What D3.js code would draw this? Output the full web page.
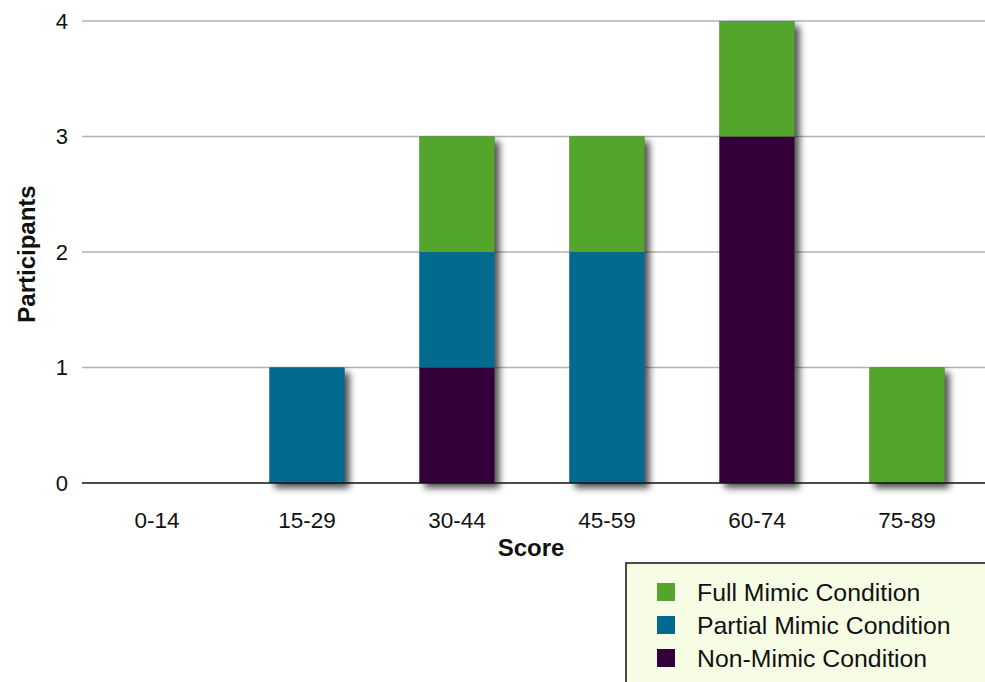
<!DOCTYPE html>
<html><head><meta charset="utf-8">
<script src="https://cdn.jsdelivr.net/npm/d3@7"></script>
<style>body{margin:0;background:#fff}svg{display:block;font-family:"Liberation Sans",Arial,Helvetica,sans-serif}</style>
</head><body><svg id="c" width="985" height="682"></svg>
<script>
const categories = ["0-14","15-29","30-44","45-59","60-74","75-89"];
const fullMimic = [0,0,1,1,1,1];
const partialMimic = [0,1,1,2,0,0];
const nonMimic = [0,0,1,0,3,0];
const seriesNames = ["Non-Mimic Condition","Partial Mimic Condition","Full Mimic Condition"];
const seriesColors = ["#33003a","#006a8f","#54a52b"];
const yTicks = [0,1,2,3,4];

const svg = d3.select("#c");
const x = d3.scaleBand().domain(categories).range([82,982]).paddingInner(0.5).paddingOuter(0.25);
const y = d3.scaleLinear().domain([0,4]).range([483,21]);

const defs = svg.append("defs");
const f = defs.append("filter").attr("id","sh").attr("x","-20%").attr("y","-20%").attr("width","160%").attr("height","160%");
f.append("feDropShadow").attr("dx",5).attr("dy",5).attr("stdDeviation",3.5).attr("flood-color","#000").attr("flood-opacity",0.7);

svg.append("g").selectAll("line").data(yTicks.filter(d=>d>0)).join("line")
  .attr("x1",82).attr("x2",985).attr("y1",d=>y(d)).attr("y2",d=>y(d))
  .attr("stroke","#b3b3b3").attr("stroke-width",1.5);

const table = categories.map((c,i)=>({cat:c,"Non-Mimic Condition":nonMimic[i],"Partial Mimic Condition":partialMimic[i],"Full Mimic Condition":fullMimic[i]}));
const stack = d3.stack().keys(seriesNames)(table);
const total = d=>d3.sum(seriesNames,k=>d[k]);

svg.append("g").attr("filter","url(#sh)").selectAll("rect").data(table.filter(d=>total(d)>0)).join("rect")
  .attr("x",d=>x(d.cat)).attr("width",x.bandwidth())
  .attr("y",d=>y(total(d)))
  .attr("height",d=>y(0)-y(total(d)))
  .attr("fill","#555");

const g = svg.append("g");
stack.forEach((s,si)=>{
  g.append("g").attr("fill",seriesColors[si]).selectAll("rect").data(s.filter(d=>d[1]>d[0])).join("rect")
    .attr("x",d=>x(d.data.cat)).attr("width",x.bandwidth())
    .attr("y",d=>y(d[1])).attr("height",d=>y(d[0])-y(d[1]));
});

svg.append("line").attr("x1",82).attr("x2",985).attr("y1",y(0)).attr("y2",y(0)).attr("stroke","#111").attr("stroke-width",1.5);

svg.append("g").selectAll("text").data(yTicks).join("text")
  .attr("x",68).attr("y",d=>y(d)).attr("dy","0.35em").attr("text-anchor","end")
  .attr("font-size",22).attr("fill","#111").text(d=>d);

svg.append("g").selectAll("text").data(categories).join("text")
  .attr("x",d=>x(d)+x.bandwidth()/2).attr("y",528).attr("text-anchor","middle")
  .attr("font-size",22.5).attr("fill","#111").text(d=>d);

svg.append("text").attr("x",531).attr("y",556).attr("text-anchor","middle").attr("font-size",24).attr("font-weight","bold").attr("fill","#111").text("Score");
svg.append("text").attr("transform","translate(35,254) rotate(-90)").attr("text-anchor","middle").attr("font-size",24).attr("font-weight","bold").attr("fill","#111").text("Participants");

const lg = svg.append("g");
lg.append("rect").attr("x",626).attr("y",563).attr("width",370).attr("height",130).attr("fill","#f6fde4").attr("stroke","#111").attr("stroke-width",1.5);
const legendItems = [seriesNames[2],seriesNames[1],seriesNames[0]];
const legendColors = [seriesColors[2],seriesColors[1],seriesColors[0]];
legendItems.forEach((n,i)=>{
  const yy = 592 + i*33;
  lg.append("rect").attr("x",657).attr("y",yy-9).attr("width",18).attr("height",18).attr("fill",legendColors[i]);
  lg.append("text").attr("x",697).attr("y",yy).attr("dy","0.35em").attr("font-size",24.8).attr("fill","#111").text(n);
});
</script></body></html>
